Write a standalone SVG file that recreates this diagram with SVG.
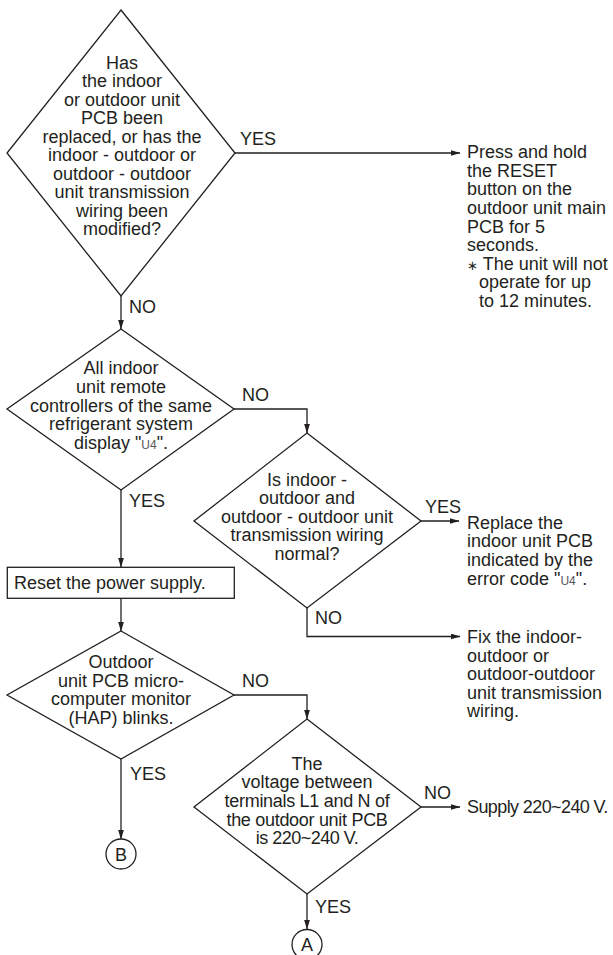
<svg xmlns="http://www.w3.org/2000/svg" width="613" height="955" viewBox="0 0 613 955">
<defs>
<style>
.shape{fill:#fff;stroke:#231f20;stroke-width:1.3}
.conn{fill:none;stroke:#231f20;stroke-width:1.3}
text{font-family:"Liberation Sans",Arial,Helvetica,sans-serif;font-size:18px;fill:#231f20}
.c{text-anchor:middle}
.seg{font-size:12px;fill:#555}
</style>
<marker id="arr" markerWidth="10" markerHeight="6" refX="9.5" refY="3" orient="auto" markerUnits="userSpaceOnUse">
<path d="M0,0 L10,3 L0,6 z" fill="#231f20"/>
</marker>
</defs>
<rect width="613" height="955" fill="#fff"/>

<g id="connectors">
<path class="conn" d="M235,153 H460" marker-end="url(#arr)"/>
<path class="conn" d="M121,296 V329" marker-end="url(#arr)"/>
<path class="conn" d="M234,409 H307 V433" marker-end="url(#arr)"/>
<path class="conn" d="M121,490 V567" marker-end="url(#arr)"/>
<path class="conn" d="M421,521 H459" marker-end="url(#arr)"/>
<path class="conn" d="M307,608 V636.5 H460" marker-end="url(#arr)"/>
<path class="conn" d="M121,598 V631" marker-end="url(#arr)"/>
<path class="conn" d="M234,695 H307 V719" marker-end="url(#arr)"/>
<path class="conn" d="M121,759 V839" marker-end="url(#arr)"/>
<path class="conn" d="M421,807 H460" marker-end="url(#arr)"/>
<path class="conn" d="M307,894 V929" marker-end="url(#arr)"/>
<text x="240" y="145">YES</text>
<text x="129" y="313">NO</text>
<text x="242" y="401">NO</text>
<text x="129" y="507">YES</text>
<text x="425" y="513">YES</text>
<text x="315" y="624">NO</text>
<text x="242" y="686.5">NO</text>
<text x="130" y="779.5">YES</text>
<text x="424" y="799">NO</text>
<text x="315" y="913">YES</text>
</g>

<g id="d1">
<polygon class="shape" points="121,10 235,153 121,296 7,153"/>
<text class="c" x="122" y="68.5">Has</text>
<text class="c" x="122" y="87">the indoor</text>
<text class="c" x="122" y="105.5">or outdoor unit</text>
<text class="c" x="122" y="124">PCB been</text>
<text class="c" x="122" y="142.5">replaced, or has the</text>
<text class="c" x="122" y="161">indoor - outdoor or</text>
<text class="c" x="122" y="179.5">outdoor - outdoor</text>
<text class="c" x="122" y="198">unit transmission</text>
<text class="c" x="122" y="216.5">wiring been</text>
<text class="c" x="122" y="235">modified?</text>
</g>

<g id="reset-action">
<text x="467" y="158">Press and hold</text>
<text x="467" y="176.5">the RESET</text>
<text x="467" y="195">button on the</text>
<text x="467" y="214">outdoor unit main</text>
<text x="467" y="232.5">PCB for 5</text>
<text x="467" y="251">seconds.</text>
<text x="467" y="269.5"><tspan font-size="13">∗</tspan> The unit will not</text>
<text x="479" y="288">operate for up</text>
<text x="479" y="306.5">to 12 minutes.</text>
</g>

<g id="d2">
<polygon class="shape" points="121,329 234,409 121,490 7,409"/>
<text class="c" x="121" y="373.5">All indoor</text>
<text class="c" x="121" y="392.5">unit remote</text>
<text class="c" x="121" y="411.5">controllers of the same</text>
<text class="c" x="121" y="430">refrigerant system</text>
<text class="c" x="121" y="449">display "<tspan class="seg">U4</tspan>".</text>
</g>

<g id="d3">
<polygon class="shape" points="307,433 421,521 307,608 194,521"/>
<text class="c" x="307" y="485.5">Is indoor -</text>
<text class="c" x="307" y="504">outdoor and</text>
<text class="c" x="307" y="522.5">outdoor - outdoor unit</text>
<text class="c" x="307" y="541">transmission wiring</text>
<text class="c" x="307" y="560">normal?</text>
</g>

<g id="replace-pcb">
<text x="467" y="528.5">Replace the</text>
<text x="467" y="547">indoor unit PCB</text>
<text x="467" y="565.5">indicated by the</text>
<text x="467" y="584.5">error code "<tspan class="seg">U4</tspan>".</text>
</g>

<g id="fix-wiring">
<text x="467" y="643">Fix the indoor-</text>
<text x="467" y="661.5">outdoor or</text>
<text x="467" y="680">outdoor-outdoor</text>
<text x="467" y="698.5">unit transmission</text>
<text x="467" y="717">wiring.</text>
</g>

<g id="reset-power">
<rect class="shape" x="7.3" y="567.3" width="227" height="31"/>
<text x="14" y="589">Reset the power supply.</text>
</g>

<g id="d4">
<polygon class="shape" points="121,631 234,695 121,759 7,695"/>
<text class="c" x="121" y="667.5">Outdoor</text>
<text class="c" x="121" y="686.5">unit PCB micro-</text>
<text class="c" x="121" y="705">computer monitor</text>
<text class="c" x="121" y="724">(HAP) blinks.</text>
</g>

<g id="d5">
<polygon class="shape" points="307,719 421,807 307,894 194,807"/>
<text class="c" x="307" y="769.5">The</text>
<text class="c" x="307" y="788">voltage between</text>
<text class="c" x="307" y="806.5" letter-spacing="-0.3">terminals L1 and N of</text>
<text class="c" x="307" y="825.5" letter-spacing="-0.3">the outdoor unit PCB</text>
<text class="c" x="307" y="844" letter-spacing="-0.5">is 220~240 V.</text>
</g>

<g id="supply">
<text x="467" y="813" letter-spacing="-0.6">Supply 220~240 V.</text>
</g>

<g id="conn-B">
<circle class="shape" cx="121" cy="854" r="15"/>
<text class="c" x="121" y="860.5">B</text>
</g>

<g id="conn-A">
<circle class="shape" cx="307" cy="944.5" r="15"/>
<text class="c" x="307" y="951">A</text>
</g>
</svg>
